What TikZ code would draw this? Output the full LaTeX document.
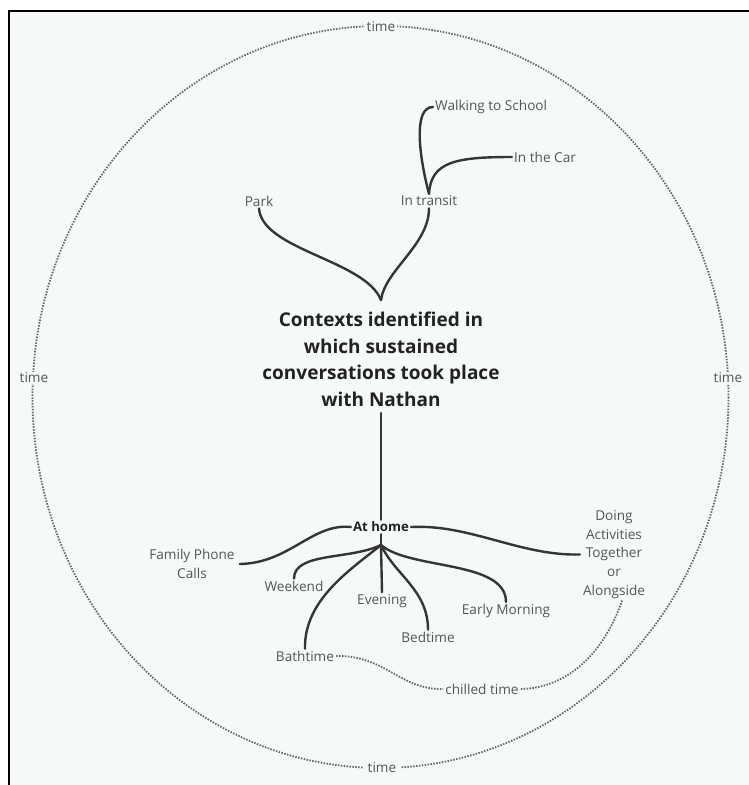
\documentclass[tikz,border=0pt]{standalone}
\usepackage{fontspec}
\setmainfont{Open Sans}
\definecolor{paper}{HTML}{F6F9F9}
\definecolor{ink}{HTML}{353535}
\definecolor{labelgray}{HTML}{555555}
\definecolor{titleink}{HTML}{222222}
\definecolor{dotgray}{HTML}{666666}
\begin{document}
\begin{tikzpicture}[x=1pt,y=-1pt,
  branch/.style={draw=ink, line width=2.4pt, line cap=round},
  timeline/.style={draw=dotgray, line width=1.8pt, dash pattern=on 1.5pt off 1.4pt},
  lbl/.style={text=labelgray, font=\fontsize{13.6}{18.6}\selectfont, inner sep=2pt, align=center},
  timelbl/.style={lbl, fill=paper, inner xsep=1.5pt, inner ysep=1pt},
  boldlbl/.style={lbl, text=titleink, font=\fontsize{13.2}{18.6}\selectfont\bfseries},
  title/.style={text=titleink, font=\fontsize{19}{26.6}\selectfont\bfseries, align=center, inner xsep=2pt, inner ysep=6pt}
]
\useasboundingbox (0,0) rectangle (749,785);
% sheet and its frame
\fill[white] (0,0) rectangle (749,785);
\fill[paper] (9,11) rectangle (749,785);
\draw[black, line width=2.2pt] (9,785) -- (9,11) -- (749,11);

% the dotted time loop
\draw[timeline] (380.5,397) ellipse [x radius=348, y radius=371];
\node[timelbl] (tTop) at (381,27) {time};
\node[timelbl] (tLeft) at (34,378) {time};
\node[timelbl] (tRight) at (728,378) {time};
\node[timelbl, inner xsep=5pt] (tBottom) at (382,768) {time};

% central question
\node[title] (ctx) at (381,359.5) {Contexts identified in\\which sustained\\conversations took place\\with Nathan};
\coordinate (crown) at (381,300);

% upper branches
\node[lbl] (park) at (259,201) {Park};
\node[lbl] (transit) at (429,201) {In transit};
\node[lbl, anchor=west] (walk) at (433,107) {Walking to School};
\node[lbl, anchor=west] (car) at (512,157) {In the Car};

\draw[branch] (park.south) .. controls (262,250) and (365,260) .. (crown);
\draw[branch] (transit.south) .. controls (429,245) and (385,270) .. (crown);
\draw[branch] (transit.north) .. controls (420,160) and (412,107) .. (walk.west);
\draw[branch] (transit.north) .. controls (431,162) and (455,157) .. (car.west);

% at home and its branches
\node[boldlbl] (home) at (381,527) {At home};
\coordinate (fan) at (381,545);
\draw[branch] (ctx.south) -- (home.north);
\draw[branch] (home.south) -- (fan);

\node[lbl, inner xsep=5pt] (family) at (192,564) {Family Phone\\Calls};
\node[lbl, inner xsep=3pt] (doing) at (614,554.5) {Doing\\Activities\\Together\\or\\Alongside};
\node[lbl] (weekend) at (294,586) {Weekend};
\node[lbl] (evening) at (382,601) {Evening};
\node[lbl] (bath) at (305,656) {Bathtime};
\node[lbl] (bed) at (428,637) {Bedtime};
\node[lbl] (early) at (506,611) {Early Morning};
\node[lbl] (chilled) at (482,689) {chilled time};

\draw[branch] (home.west) .. controls (312,523) and (290,563) .. (family.east);
\draw[branch] (home.east) .. controls (470,524) and (520,556) .. (doing.west);
\draw[branch] (fan) .. controls (350,560) and (294,552) .. (weekend.north);
\draw[branch] (fan) -- (evening.north);
\draw[branch] (fan) .. controls (350,570) and (304,600) .. (bath.north);
\draw[branch] (fan) .. controls (395,575) and (428,590) .. (bed.north);
\draw[branch] (fan) .. controls (410,570) and (506,560) .. (early.north);

% dotted links to chilled time
\draw[timeline] (bath.east) .. controls (385,655) and (400,690) .. (chilled.west);
\draw[timeline] (chilled.east) .. controls (570,688) and (605,650) .. (doing.-80);
\end{tikzpicture}
\end{document}
